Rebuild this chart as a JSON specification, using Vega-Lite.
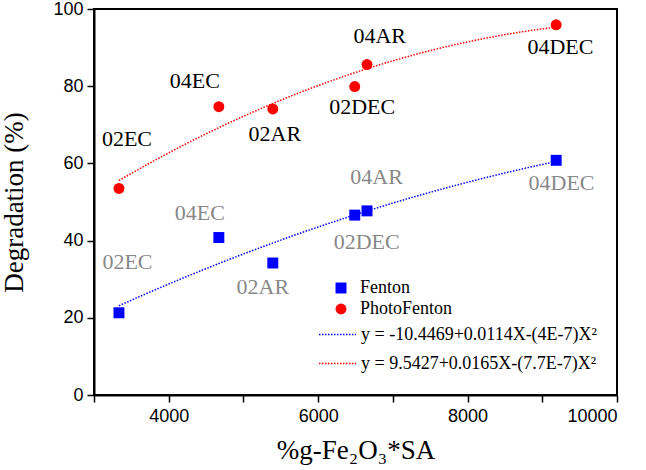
{
  "$schema": "https://vega.github.io/schema/vega-lite/v6.json",
  "autosize": {"type": "none"},
  "width": 523,
  "height": 386,
  "padding": {"left": 94, "top": 9, "right": 29, "bottom": 75},
  "background": "white",
  "config": {
    "view": {"stroke": "black", "strokeWidth": 2},
    "axis": {
      "grid": false,
      "domainColor": "black",
      "domainWidth": 2,
      "tickColor": "black",
      "tickWidth": 1.5,
      "tickSize": 7,
      "labelFont": "Liberation Sans",
      "labelFontSize": 18,
      "labelColor": "black",
      "titleFont": "Liberation Serif",
      "titleFontSize": 27,
      "titleFontWeight": "normal",
      "titleColor": "black"
    },
    "legend": {
      "labelFont": "Liberation Serif",
      "labelFontSize": 18,
      "labelColor": "black",
      "labelLimit": 0
    }
  },
  "datasets": {
    "pts": [
      {"x": 3334, "y": 21.3, "series": "Fenton", "eq": "y = -10.4469+0.0114X-(4E-7)X²"},
      {"x": 4671, "y": 40.8, "series": "Fenton", "eq": "y = -10.4469+0.0114X-(4E-7)X²"},
      {"x": 5393, "y": 34.2, "series": "Fenton", "eq": "y = -10.4469+0.0114X-(4E-7)X²"},
      {"x": 6490, "y": 46.6, "series": "Fenton", "eq": "y = -10.4469+0.0114X-(4E-7)X²"},
      {"x": 6654, "y": 47.7, "series": "Fenton", "eq": "y = -10.4469+0.0114X-(4E-7)X²"},
      {"x": 9186, "y": 60.8, "series": "Fenton", "eq": "y = -10.4469+0.0114X-(4E-7)X²"},
      {"x": 3334, "y": 53.5, "series": "PhotoFenton", "eq": "y = 9.5427+0.0165X-(7.7E-7)X²"},
      {"x": 4671, "y": 74.7, "series": "PhotoFenton", "eq": "y = 9.5427+0.0165X-(7.7E-7)X²"},
      {"x": 5393, "y": 74.1, "series": "PhotoFenton", "eq": "y = 9.5427+0.0165X-(7.7E-7)X²"},
      {"x": 6490, "y": 79.9, "series": "PhotoFenton", "eq": "y = 9.5427+0.0165X-(7.7E-7)X²"},
      {"x": 6654, "y": 85.6, "series": "PhotoFenton", "eq": "y = 9.5427+0.0165X-(7.7E-7)X²"},
      {"x": 9186, "y": 95.9, "series": "PhotoFenton", "eq": "y = 9.5427+0.0165X-(7.7E-7)X²"}
    ],
    "labels": [
      {"lx": 3441, "ly": 66.3, "text": "02EC", "series": "PhotoFenton"},
      {"lx": 4350, "ly": 81.3, "text": "04EC", "series": "PhotoFenton"},
      {"lx": 5420, "ly": 67.6, "text": "02AR", "series": "PhotoFenton"},
      {"lx": 6590, "ly": 74.6, "text": "02DEC", "series": "PhotoFenton"},
      {"lx": 6824, "ly": 93.0, "text": "04AR", "series": "PhotoFenton"},
      {"lx": 9243, "ly": 90.2, "text": "04DEC", "series": "PhotoFenton"},
      {"lx": 3448, "ly": 34.5, "text": "02EC", "series": "Fenton"},
      {"lx": 4417, "ly": 47.2, "text": "04EC", "series": "Fenton"},
      {"lx": 5259, "ly": 28.0, "text": "02AR", "series": "Fenton"},
      {"lx": 6650, "ly": 39.6, "text": "02DEC", "series": "Fenton"},
      {"lx": 6783, "ly": 56.5, "text": "04AR", "series": "Fenton"},
      {"lx": 9257, "ly": 54.9, "text": "04DEC", "series": "Fenton"}
    ]
  },
  "layer": [
    {
      "data": {"name": "pts"},
      "transform": [
        {"regression": "y", "on": "x", "method": "poly", "order": 2, "groupby": ["eq"], "extent": [3334, 9186]}
      ],
      "mark": {"type": "line", "strokeWidth": 1.5, "strokeDash": [1.5, 1.5]},
      "encoding": {
        "x": {
          "field": "x", "type": "quantitative",
          "scale": {"domain": [3000, 10000], "nice": false, "zero": false},
          "axis": {
            "title": "%g-Fe₂O₃*SA",
            "values": [3000, 4000, 5000, 6000, 7000, 8000, 9000, 10000],
            "format": "d",
            "labelExpr": "datum.value % 2000 == 0 ? datum.label : ''",
            "labelPadding": 5,
            "titlePadding": 12,
            "encode": {"ticks": {"update": {"y2": {"signal": "datum.value % 2000 == 0 ? 7 : 4"}}}}
          }
        },
        "y": {
          "field": "y", "type": "quantitative",
          "scale": {"domain": [0, 100], "nice": false},
          "axis": {
            "title": "Degradation (%)",
            "values": [0, 10, 20, 30, 40, 50, 60, 70, 80, 90, 100],
            "labelExpr": "datum.value % 20 == 0 ? datum.label : ''",
            "labelPadding": 4,
            "titlePadding": 24,
            "encode": {"ticks": {"update": {"x2": {"signal": "datum.value % 20 == 0 ? -7 : -4"}}}}
          }
        },
        "stroke": {
          "field": "eq", "type": "nominal",
          "scale": {
            "domain": ["y = -10.4469+0.0114X-(4E-7)X²", "y = 9.5427+0.0165X-(7.7E-7)X²"],
            "range": ["#0000ff", "#ff0000"]
          },
          "legend": {
            "title": null,
            "orient": "none",
            "legendX": 224,
            "legendY": 306,
            "symbolType": "M-1,0H1",
            "symbolSize": 1369,
            "symbolStrokeWidth": 1.5,
            "symbolDash": [1.5, 1.5],
            "labelOffset": 4,
            "rowPadding": -10
          }
        }
      }
    },
    {
      "data": {"name": "pts"},
      "mark": {"type": "point", "filled": true, "opacity": 1, "size": 120},
      "encoding": {
        "x": {"field": "x", "type": "quantitative"},
        "y": {"field": "y", "type": "quantitative"},
        "fill": {
          "field": "series", "type": "nominal",
          "scale": {"domain": ["Fenton", "PhotoFenton"], "range": ["#0000ff", "#ff0000"]},
          "legend": {
            "title": null,
            "orient": "none",
            "legendX": 238,
            "legendY": 270,
            "symbolSize": 120,
            "symbolOpacity": 1,
            "labelOffset": 10,
            "rowPadding": 3
          }
        },
        "shape": {
          "field": "series", "type": "nominal",
          "scale": {"domain": ["Fenton", "PhotoFenton"], "range": ["square", "circle"]},
          "legend": {
            "title": null,
            "orient": "none",
            "legendX": 238,
            "legendY": 270,
            "symbolSize": 120,
            "labelOffset": 10,
            "rowPadding": 3
          }
        }
      }
    },
    {
      "data": {"name": "labels"},
      "mark": {"type": "text", "font": "Liberation Serif", "fontSize": 22, "baseline": "middle", "align": "center"},
      "encoding": {
        "x": {"field": "lx", "type": "quantitative"},
        "y": {"field": "ly", "type": "quantitative"},
        "text": {"field": "text"},
        "color": {
          "field": "series", "type": "nominal",
          "scale": {"domain": ["Fenton", "PhotoFenton"], "range": ["#888888", "#000000"]},
          "legend": null
        }
      }
    }
  ]
}
